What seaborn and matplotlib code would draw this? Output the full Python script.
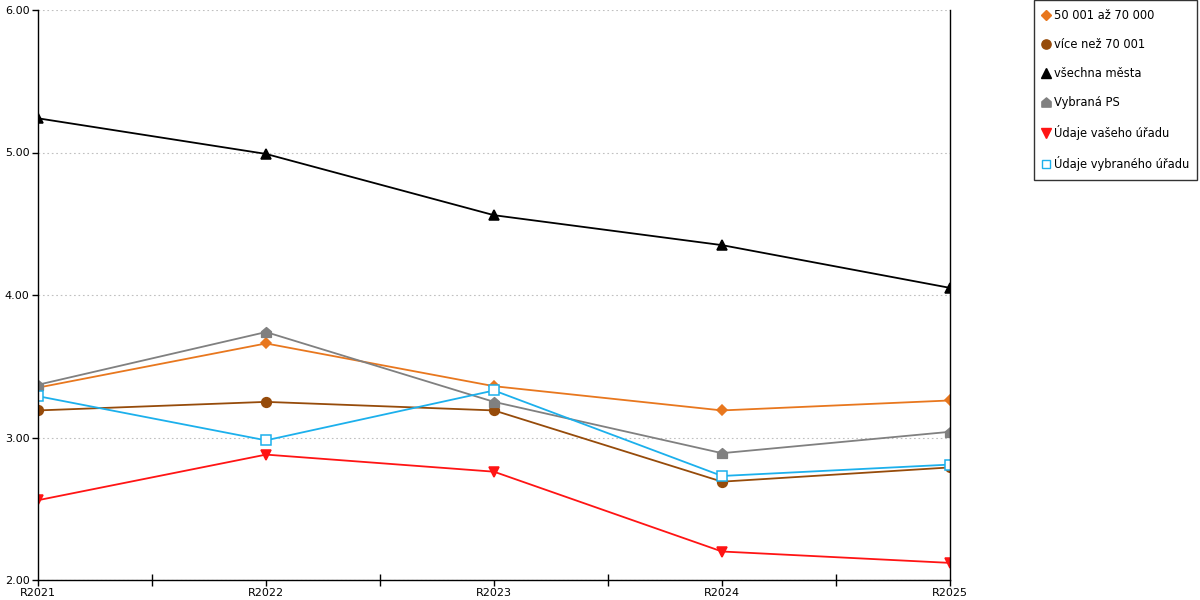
import numpy as np
import pandas as pd
import seaborn as sns
import matplotlib.pyplot as plt
from matplotlib.lines import Line2D
from matplotlib.path import Path

years = ['R2021', 'R2022', 'R2023', 'R2024', 'R2025']

series_names = ['50 001 až 70 000', 'více než 70 001', 'všechna města',
                'Vybraná PS', 'Údaje vašeho úřadu', 'Údaje vybraného úřadu']

s_50_70 = [3.35, 3.66, 3.36, 3.19, 3.26]
s_nad_70 = [3.19, 3.25, 3.19, 2.69, 2.79]
s_vsechna = [5.24, 4.99, 4.56, 4.35, 4.05]
s_ps = [3.37, 3.74, 3.25, 2.89, 3.04]
s_vas = [2.56, 2.88, 2.76, 2.20, 2.12]
s_vybrany = [3.29, 2.98, 3.33, 2.73, 2.81]

values = [s_50_70, s_nad_70, s_vsechna, s_ps, s_vas, s_vybrany]

df = pd.DataFrame({
    'rok': years * len(series_names),
    'serie': np.repeat(series_names, len(years)),
    'hodnota': np.concatenate(values),
})
df['x'] = df['rok'].map({y: i for i, y in enumerate(years)})

# house-shaped marker for "Vybraná PS"
house = Path([(-1, -1), (1, -1), (1, 0.15), (0, 1), (-1, 0.15), (-1, -1)],
             [Path.MOVETO] + [Path.LINETO] * 4 + [Path.CLOSEPOLY])

styles = {
    '50 001 až 70 000': dict(color='#E8771E', marker='D', ms=5.5, mfc='#E8771E'),
    'více než 70 001': dict(color='#964B0A', marker='o', ms=7, mfc='#964B0A'),
    'všechna města': dict(color='#000000', marker='^', ms=7.5, mfc='#000000'),
    'Vybraná PS': dict(color='#808080', marker=house, ms=7, mfc='#808080'),
    'Údaje vašeho úřadu': dict(color='#FF1414', marker='v', ms=7.5, mfc='#FF1414'),
    'Údaje vybraného úřadu': dict(color='#1CB0EC', marker='s', ms=6.5, mfc='white'),
}

sns.set_style('white')
plt.rcParams['font.family'] = ['DejaVu Sans']
plt.rcParams['text.color'] = 'black'
plt.rcParams['xtick.color'] = 'black'
plt.rcParams['ytick.color'] = 'black'

fig = plt.figure(figsize=(12, 6), dpi=100)
ax = fig.add_axes([38 / 1200, 20 / 600, 912 / 1200, 570 / 600])

for name in series_names:
    st = styles[name]
    sub = df[df['serie'] == name]
    sns.lineplot(data=sub, x='x', y='hodnota', ax=ax, color=st['color'],
                 marker=st['marker'], markersize=st['ms'],
                 markerfacecolor=st['mfc'], markeredgecolor=st['color'],
                 markeredgewidth=1.1, linewidth=1.3, legend=False)

ax.set_xlim(0, len(years) - 1)
ax.set_ylim(2, 6)
ax.set_xticks(range(len(years)))
ax.set_xticklabels(years, fontsize=8)
ax.set_xticks(np.arange(0.5, len(years) - 1, 1), minor=True)
ax.set_yticks([2, 3, 4, 5, 6])
ax.set_yticklabels([f'{v:.2f}' for v in [2, 3, 4, 5, 6]], fontsize=8)
ax.tick_params(axis='x', which='major', bottom=True, direction='out',
               length=4, width=1, pad=2, colors='black')
ax.tick_params(axis='x', which='minor', bottom=True, direction='inout',
               length=8, width=1, colors='black')
ax.tick_params(axis='y', left=True, direction='out', length=4, width=1,
               pad=2, colors='black')
ax.set_xlabel('')
ax.set_ylabel('')

ax.yaxis.grid(True, color='#C0C0C0', linestyle=(0, (1.5, 2.5)), linewidth=0.8)
ax.xaxis.grid(False)
ax.set_axisbelow(True)
for side in ['left', 'bottom', 'right']:
    ax.spines[side].set_color('black')
    ax.spines[side].set_linewidth(1)
ax.spines['top'].set_visible(False)

handles = [Line2D([], [], linestyle='none', marker=styles[n]['marker'],
                  markersize=styles[n]['ms'] * 0.95, color=styles[n]['color'],
                  markerfacecolor=styles[n]['mfc'],
                  markeredgecolor=styles[n]['color']) for n in series_names]
leg = fig.legend(handles, series_names, loc='upper left',
                 bbox_to_anchor=(1034 / 1200, 1.0), fontsize=8.3,
                 frameon=True, fancybox=False, edgecolor='black',
                 handlelength=0.6, handletextpad=0.35, labelspacing=1.4,
                 borderpad=0.75, borderaxespad=0)
leg.get_frame().set_linewidth(1)

fig.savefig('out.png', dpi=100)
